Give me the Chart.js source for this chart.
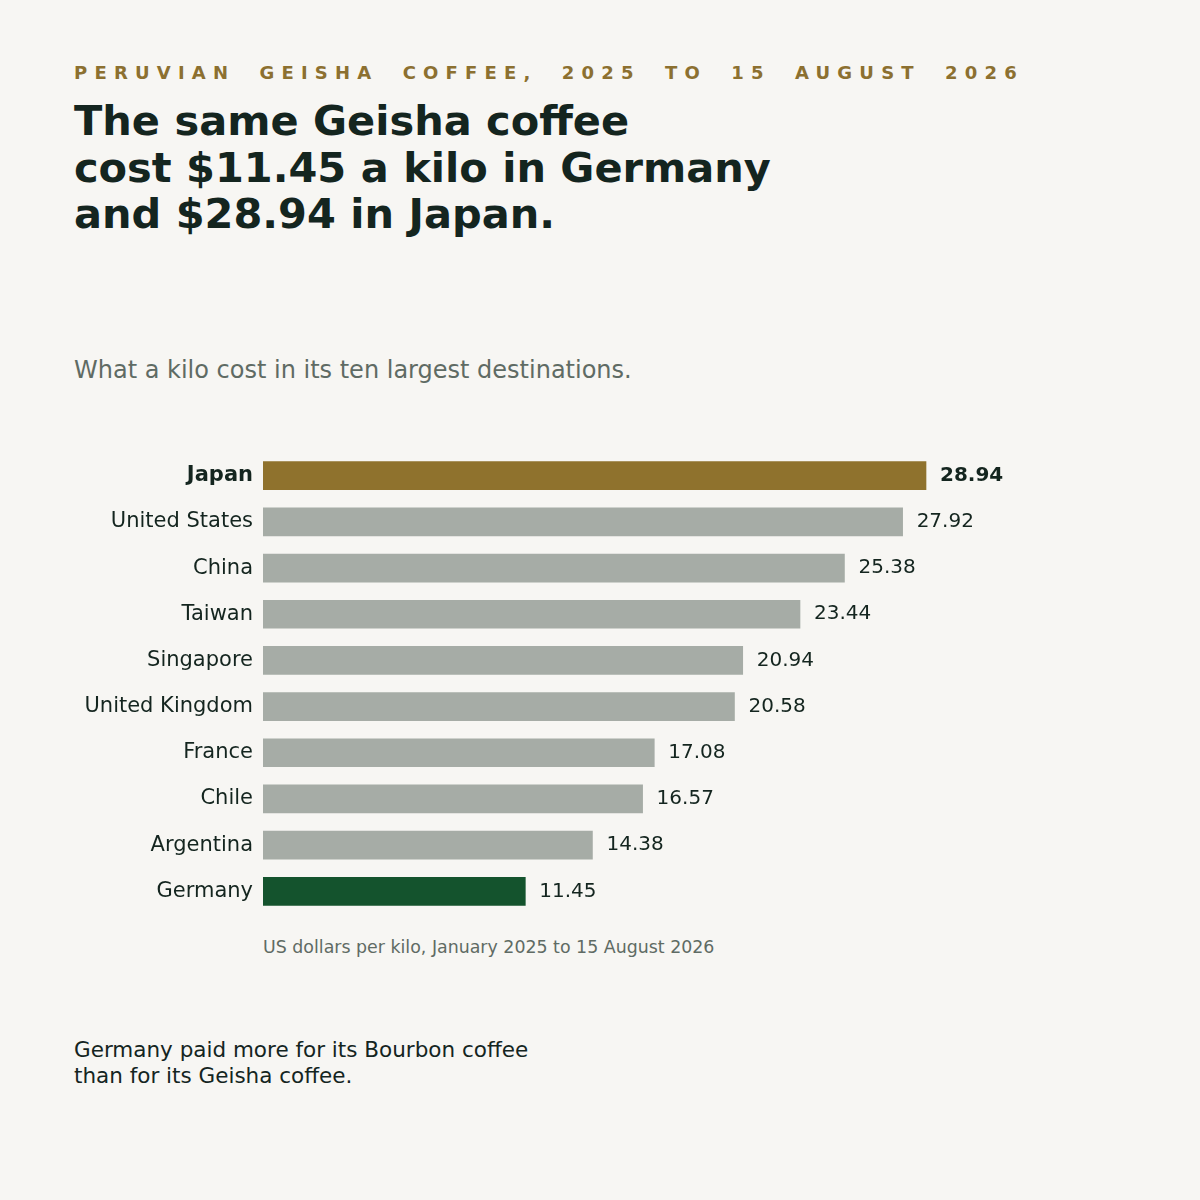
<!DOCTYPE html>
<html><head><meta charset="utf-8">
<script src="https://cdn.jsdelivr.net/npm/chart.js@4"></script>
<style>
body{margin:0;background:#f7f6f3;font-family:"DejaVu Sans",sans-serif;}
#wrap{position:relative;width:1200px;height:1200px;}
.t{position:absolute;left:74px;margin:0;}
#kicker{top:62px;font-size:18px;font-weight:bold;letter-spacing:0.4em;color:#8c7030;word-spacing:0.6em;white-space:nowrap;}
#title{top:98px;font-size:41.5px;font-weight:bold;line-height:46.5px;color:#14251f;}
#sub{top:356px;font-size:24px;color:#5f6b64;}
#note{top:937px;left:263px;font-size:17.4px;color:#5f6b64;}
#foot{top:1037px;font-size:21.5px;line-height:26px;color:#14251f;}
#box{position:absolute;left:74px;top:430px;width:1052px;height:507px;}
</style></head><body><div id="wrap">
<p class="t" id="kicker">PERUVIAN GEISHA COFFEE, 2025 TO 15 AUGUST 2026</p>
<p class="t" id="title">The same Geisha coffee<br>cost $11.45 a kilo in Germany<br>and $28.94 in Japan.</p>
<p class="t" id="sub">What a kilo cost in its ten largest destinations.</p>
<div id="box"><canvas id="c" width="1052" height="507"></canvas></div>
<p class="t" id="note">US dollars per kilo, January 2025 to 15 August 2026</p>
<p class="t" id="foot">Germany paid more for its Bourbon coffee<br>than for its Geisha coffee.</p>
</div>
<script>
const countries = ["Japan","United States","China","Taiwan","Singapore","United Kingdom","France","Chile","Argentina","Germany"];
const prices = [28.94,27.92,25.38,23.44,20.94,20.58,17.08,16.57,14.38,11.45];
const colors = countries.map(c => c === "Japan" ? "#8f722d" : c === "Germany" ? "#14532d" : "#a6aca6");

const valueLabels = {
  id: "valueLabels",
  afterDatasetsDraw(chart) {
    const ctx = chart.ctx;
    chart.getDatasetMeta(0).data.forEach((bar, i) => {
      ctx.save();
      ctx.font = (i === 0 ? "bold " : "") + "20px 'DejaVu Sans'";
      ctx.fillStyle = "#14251f";
      ctx.textBaseline = "middle";
      ctx.fillText(prices[i].toFixed(2), bar.x + 14, bar.y);
      ctx.restore();
    });
  }
};

new Chart(document.getElementById("c"), {
  type: "bar",
  data: { labels: countries, datasets: [{ data: prices, backgroundColor: colors, barThickness: 28 }] },
  options: {
    indexAxis: "y", responsive: false, animation: false,
    layout: { padding: 0 },
    plugins: { legend: { display: false }, tooltip: { enabled: false } },
    scales: {
      x: { display: false, min: 0, max: 37.67 },
      y: {
        grid: { display: false, drawTicks: false }, border: { display: false },
        afterFit(s) { s.width = 189; },
        ticks: {
          padding: 10, color: "#14251f",
          font: ctx => ({ family: "DejaVu Sans", size: 21, weight: ctx.index === 0 ? "bold" : "normal" })
        }
      }
    }
  },
  plugins: [valueLabels]
});
</script></body></html>
